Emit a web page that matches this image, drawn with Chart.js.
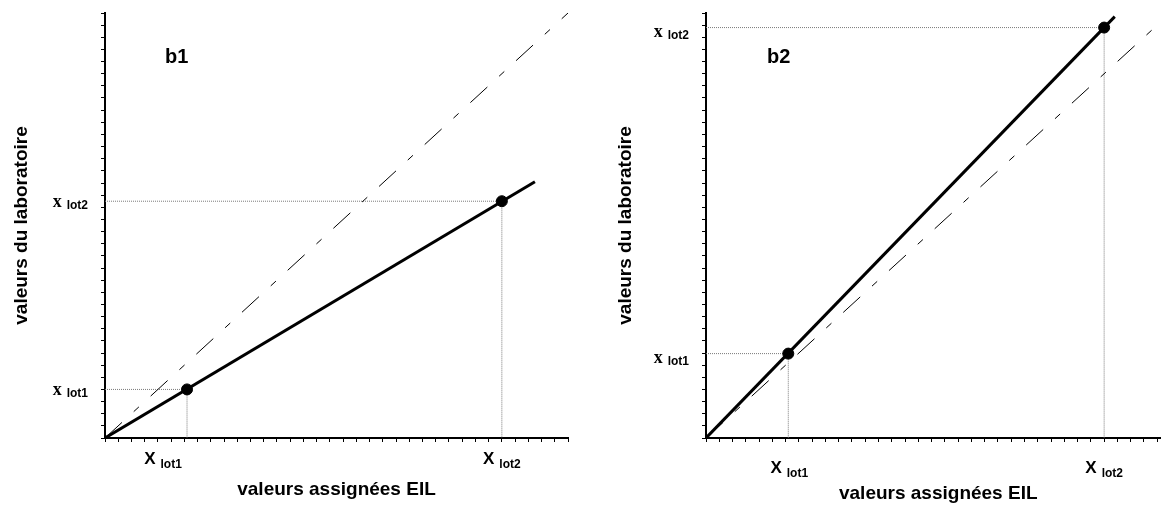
<!DOCTYPE html>
<html>
<head>
<meta charset="utf-8">
<script src="https://cdn.jsdelivr.net/npm/chart.js@4/dist/chart.umd.min.js"></script>
<style>
html, body { margin: 0; padding: 0; background: #fff; overflow: hidden; }
#wrap { position: relative; width: 1161px; height: 509px; overflow: hidden; }
canvas { position: absolute; top: 0; }
#c1 { left: 0; }
#c2 { left: 590px; }
</style>
</head>
<body>
<div id="wrap">
  <canvas id="c1" width="590" height="509"></canvas>
  <canvas id="c2" width="600" height="509"></canvas>
</div>
<script>
// axis runs 0..35 on both panels, one minor tick per unit
const axisMin = 0;
const axisMax = 35;
const axisStep = 1;

// reference line y = x (dash-dot)
const refX = [0, 35];
const refY = [0, 35];

// panel b1 : laboratory line below the reference
const b1LineX = [0, 32.5];
const b1LineY = [0, 21.1];
const b1LotX = [6.2, 30];
const b1LotY = [4.0, 19.5];

// panel b2 : laboratory line above the reference
const b2LineX = [0, 30.8];
const b2LineY = [0, 34.7];
const b2LotX = [6.2, 30];
const b2LotY = [6.95, 33.8];

const lotNames = ['lot1', 'lot2'];
const panelNames = ['b1', 'b2'];
const xAxisTitle = 'valeurs assignées EIL';
const yAxisTitle = 'valeurs du laboratoire';

const SANS = '"Liberation Sans", Arial, sans-serif';
const SERIF = '"Liberation Serif", "Times New Roman", serif';

function toPts(xs, ys) {
    return xs.map((x, i) => ({ x: x, y: ys[i] }));
}

function drawPair(ctx, main, mainFont, sub, subFont, x, y, subDy, align) {
    const gap = 5;
    ctx.font = mainFont;
    const wMain = ctx.measureText(main).width;
    ctx.font = subFont;
    const wSub = ctx.measureText(sub).width;
    const total = wMain + gap + wSub;
    let start = x;
    if (align === 'right') start = x - total;
    if (align === 'center') start = x - total / 2;
    ctx.textAlign = 'left';
    ctx.textBaseline = 'alphabetic';
    ctx.fillStyle = '#000';
    ctx.font = mainFont;
    ctx.fillText(main, start, y);
    ctx.font = subFont;
    ctx.fillText(sub, start + wMain + gap, y + subDy);
}

const lotLabels = {
    id: 'lotLabels',
    afterDraw(chart, args, opts) {
        const ctx = chart.ctx;
        const xs = chart.scales.x;
        const ys = chart.scales.y;
        ctx.save();
        opts.lotX.forEach((v, i) => {
            const px = xs.getPixelForValue(v) + opts.xLabelDx[i];
            drawPair(ctx, 'X', 'bold 17px ' + SANS, lotNames[i], 'bold 12px ' + SANS,
                px, ys.bottom + opts.xLabelDy, 4, 'center');
        });
        opts.lotY.forEach((v, i) => {
            const py = ys.getPixelForValue(v) + opts.yLabelDy;
            drawPair(ctx, 'x', 'bold 18px ' + SERIF, lotNames[i], 'bold 12px ' + SANS,
                xs.left - 17, py, 2, 'right');
        });
        ctx.font = 'bold 20px ' + SANS;
        ctx.textAlign = 'left';
        ctx.fillText(opts.panel, opts.panelX, opts.panelY);
        ctx.restore();
    }
};

function guideSet(lx, ly) {
    return {
        data: [{ x: 0, y: ly }, { x: lx, y: ly }, { x: lx, y: 0 }],
        showLine: true,
        borderColor: '#7a7a7a',
        borderWidth: 1,
        borderDash: [1, 1],
        pointRadius: 0
    };
}

function axisOpts(isX, fitSize, titlePad) {
    return {
        type: 'linear',
        min: axisMin,
        max: axisMax,
        border: { color: '#000', width: 2 },
        grid: { drawOnChartArea: false, drawTicks: true, tickLength: 4, tickColor: '#000', tickWidth: 1 },
        ticks: { display: false, stepSize: axisStep, autoSkip: false },
        title: {
            display: true,
            text: isX ? xAxisTitle : yAxisTitle,
            color: '#000',
            font: { family: SANS, size: 19, weight: 'bold', lineHeight: 1 },
            padding: isX ? { top: 0, bottom: titlePad } : { top: titlePad, bottom: 0 }
        },
        afterFit: (scale) => {
            if (isX) scale.height = fitSize; else scale.width = fitSize;
        }
    };
}

function DrawPanel(canvasId, lineX, lineY, lotX, lotY, look) {
    const datasets = [
        {
            data: toPts(lotX, lotY),
            pointRadius: 5.5,
            pointBackgroundColor: '#000',
            pointBorderColor: '#000',
            showLine: false
        },
        {
            data: toPts(lineX, lineY),
            showLine: true,
            borderColor: '#000',
            borderWidth: 3,
            pointRadius: 0
        },
        {
            data: toPts(refX, refY),
            showLine: true,
            borderColor: '#000',
            borderWidth: 1,
            borderDash: [23, 16, 7, 16],
            pointRadius: 0
        }
    ];
    lotX.forEach((v, i) => datasets.push(guideSet(v, lotY[i])));

    return new Chart(document.getElementById(canvasId), {
        type: 'scatter',
        data: { datasets: datasets },
        options: {
            responsive: false,
            animation: false,
            events: [],
            layout: { padding: { left: 0, top: 13, right: look.padRight, bottom: 0 } },
            plugins: {
                legend: { display: false },
                tooltip: { enabled: false },
                lotLabels: {
                    lotX: lotX,
                    lotY: lotY,
                    panel: look.panel,
                    panelX: look.panelX,
                    panelY: 63,
                    xLabelDx: look.xLabelDx,
                    xLabelDy: look.xLabelDy,
                    yLabelDy: look.yLabelDy
                }
            },
            scales: {
                x: axisOpts(true, 71, look.xTitlePad),
                y: axisOpts(false, look.yAxisWidth, look.yTitlePad)
            }
        },
        plugins: [lotLabels]
    });
}

DrawPanel('c1', b1LineX, b1LineY, b1LotX, b1LotY, {
    panel: panelNames[0], panelX: 165, padRight: 22, yAxisWidth: 105,
    xTitlePad: 10, yTitlePad: 12, xLabelDx: [-24, 0], xLabelDy: 26, yLabelDy: 6
});
DrawPanel('c2', b2LineX, b2LineY, b2LotX, b2LotY, {
    panel: panelNames[1], panelX: 177, padRight: 19.5, yAxisWidth: 116,
    xTitlePad: 6, yTitlePad: 26, xLabelDx: [1, 0], xLabelDy: 35, yLabelDy: 9
});
</script>
</body>
</html>
